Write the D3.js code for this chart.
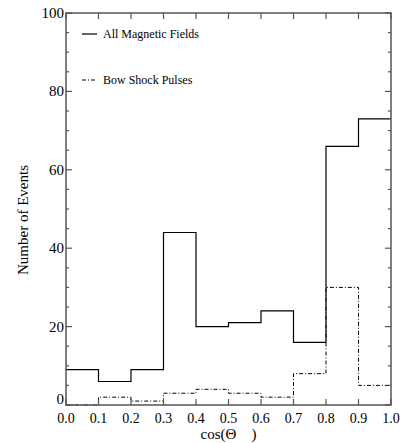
<!DOCTYPE html>
<html>
<head>
<meta charset="utf-8">
<script src="https://cdn.jsdelivr.net/npm/d3@7"></script>
<style>
    body { margin: 0; background: #fff; }
    svg text { font-family: "Liberation Serif", "DejaVu Serif", serif; fill: #000; }
</style>
</head>
<body>
<div id="chart"></div>
<script>
// bin edges of cos(theta) and counts per bin
const binEdges = [0.0, 0.1, 0.2, 0.3, 0.4, 0.5, 0.6, 0.7, 0.8, 0.9, 1.0];
const allFields = [9, 6, 9, 44, 20, 21, 24, 16, 66, 73];
const bowShock = [0, 2, 1, 3, 4, 3, 2, 8, 30, 5];
const xTicks = [0.0, 0.1, 0.2, 0.3, 0.4, 0.5, 0.6, 0.7, 0.8, 0.9, 1.0];
const yTicks = [0, 20, 40, 60, 80, 100];
const yMinorTicks = d3.range(0, 101, 5);

const width = 402, height = 443;
const margin = { top: 13, right: 11, bottom: 38, left: 66 };
const innerW = width - margin.left - margin.right;
const innerH = height - margin.top - margin.bottom;

const svg = d3.select('#chart')
    .append('svg')
    .attr('width', width)
    .attr('height', height);

const g = svg.append('g')
    .attr('transform', `translate(${margin.left}, ${margin.top})`);

const x = d3.scaleLinear().domain([0, 1]).range([0, innerW]);
const y = d3.scaleLinear().domain([0, 100]).range([innerH, 0]);

const axisColor = '#555';

// step line for a histogram
const stepPath = (counts) => {
    const pts = [];
    counts.forEach((c, i) => {
        pts.push([x(binEdges[i]), y(c)]);
        pts.push([x(binEdges[i + 1]), y(c)]);
    });
    return d3.line()(pts);
};

g.append('path')
    .attr('d', stepPath(bowShock))
    .attr('fill', 'none')
    .attr('stroke', '#000')
    .attr('stroke-width', 1)
    .attr('stroke-dasharray', '4,2,1,2');

g.append('path')
    .attr('d', stepPath(allFields))
    .attr('fill', 'none')
    .attr('stroke', '#000')
    .attr('stroke-width', 1.2);

// frame
g.append('rect')
    .attr('x', 0)
    .attr('y', 0)
    .attr('width', innerW)
    .attr('height', innerH)
    .attr('fill', 'none')
    .attr('stroke', axisColor)
    .attr('stroke-width', 1.5);

// x ticks (bottom and top, inward)
xTicks.forEach(t => {
    g.append('line')
        .attr('x1', x(t)).attr('x2', x(t))
        .attr('y1', innerH).attr('y2', innerH - 6)
        .attr('stroke', axisColor).attr('stroke-width', 1.2);
    g.append('line')
        .attr('x1', x(t)).attr('x2', x(t))
        .attr('y1', 0).attr('y2', 6)
        .attr('stroke', axisColor).attr('stroke-width', 1.2);
});

// y ticks (left and right, inward)
yMinorTicks.forEach(t => {
    const len = t % 20 === 0 ? 6 : 3;
    g.append('line')
        .attr('x1', 0).attr('x2', len)
        .attr('y1', y(t)).attr('y2', y(t))
        .attr('stroke', axisColor).attr('stroke-width', 1.2);
    g.append('line')
        .attr('x1', innerW).attr('x2', innerW - len)
        .attr('y1', y(t)).attr('y2', y(t))
        .attr('stroke', axisColor).attr('stroke-width', 1.2);
});

g.selectAll('.xlab')
    .data(xTicks)
    .enter()
    .append('text')
    .attr('class', 'xlab')
    .attr('x', d => x(d))
    .attr('y', innerH + 18)
    .style('text-anchor', 'middle')
    .style('font-size', '14px')
    .text(d => d.toFixed(1));

g.selectAll('.ylab')
    .data(yTicks)
    .enter()
    .append('text')
    .attr('class', 'ylab')
    .attr('x', -2)
    .attr('y', d => y(d) + (d === 0 ? -1 : 5))
    .style('text-anchor', 'end')
    .style('font-size', '15px')
    .text(d => d);

// axis titles
svg.append('text')
    .attr('x', margin.left + innerW / 2)
    .attr('y', 439)
    .style('text-anchor', 'middle')
    .style('font-size', '15px')
    .style('white-space', 'pre')
    .text('cos(\u0398    )');

svg.append('text')
    .attr('transform', 'translate(28, 220) rotate(-90)')
    .style('text-anchor', 'middle')
    .style('font-size', '15px')
    .text('Number of Events');

// legend
const legend = [
    { label: 'All Magnetic Fields', dash: null, yPos: 34 },
    { label: 'Bow Shock Pulses', dash: '4,2,1,2', yPos: 80 }
];

legend.forEach(l => {
    svg.append('line')
        .attr('x1', 82).attr('x2', 97)
        .attr('y1', l.yPos).attr('y2', l.yPos)
        .attr('stroke', '#000')
        .attr('stroke-width', 1.2)
        .attr('stroke-dasharray', l.dash);
    svg.append('text')
        .attr('x', 103)
        .attr('y', l.yPos + 4)
        .style('font-size', '12px')
        .text(l.label);
});
</script>
</body>
</html>
